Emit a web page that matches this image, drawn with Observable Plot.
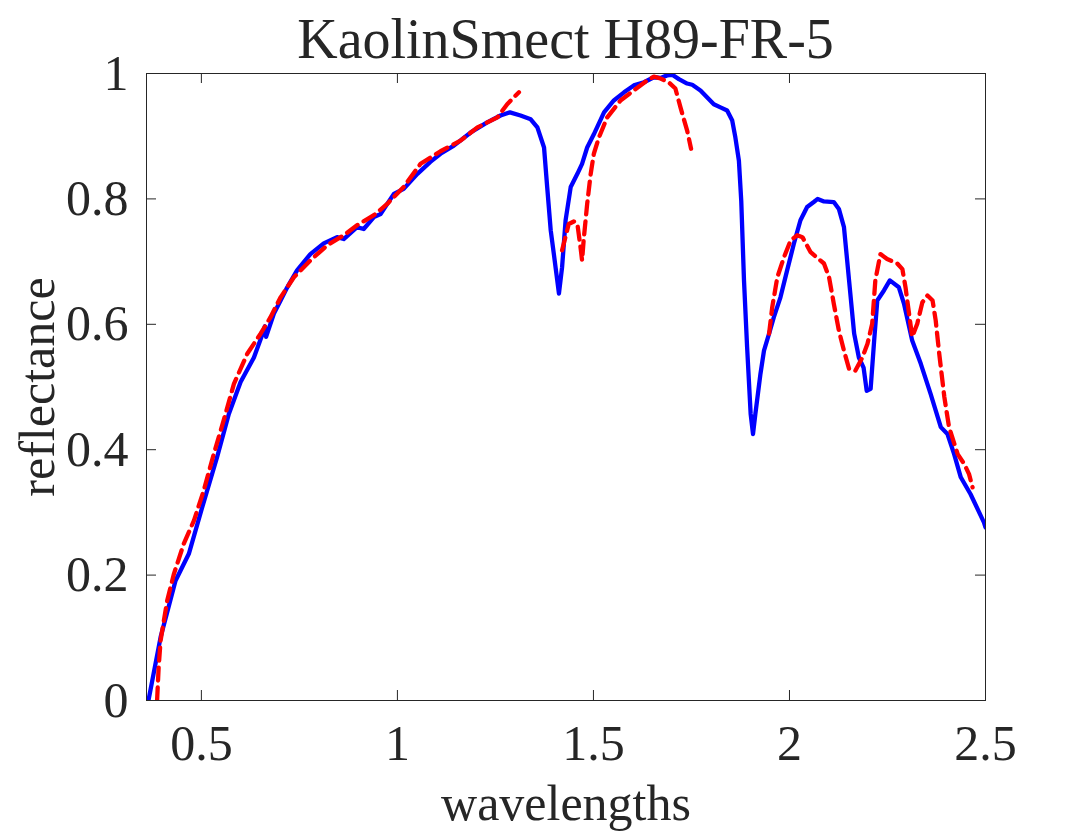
<!DOCTYPE html>
<html>
<head>
<meta charset="utf-8">
<script src="https://cdn.jsdelivr.net/npm/d3@7"></script>
<script src="https://cdn.jsdelivr.net/npm/@observablehq/plot@0.6"></script>
<style>
  body { margin: 0; background: #fff; }
  #title {
    position: relative;
    height: 50px;
    font-family: "Liberation Serif", "Times New Roman", serif;
    color: #262626;
  }
  #title span {
    position: absolute;
    left: 146px;
    width: 839px;
    top: 11px;
    text-align: center;
    font-size: 56px;
    line-height: 1;
    white-space: nowrap;
  }
  svg { overflow: visible; }
</style>
</head>
<body>
<div id="title"><span>KaolinSmect H89-FR-5</span></div>
<div id="chart"></div>
<script>
// Measured spectrum (solid blue)
const measuredWavelength = [
  0.365, 0.396, 0.434, 0.468, 0.502, 0.540, 0.570, 0.600, 0.634, 0.655,
  0.662, 0.665, 0.685, 0.702, 0.719, 0.744, 0.778, 0.812, 0.846, 0.863,
  0.897, 0.914, 0.940, 0.957, 0.991, 1.016, 1.051, 1.084, 1.110, 1.144,
  1.187, 1.229, 1.263, 1.287, 1.314, 1.340, 1.357, 1.374, 1.382, 1.391,
  1.399, 1.412, 1.420, 1.429, 1.442, 1.459, 1.471, 1.484, 1.501, 1.527,
  1.552, 1.578, 1.603, 1.629, 1.654, 1.671, 1.688, 1.701, 1.718, 1.739,
  1.752, 1.773, 1.807, 1.824, 1.841, 1.854, 1.862, 1.871, 1.877, 1.884,
  1.892, 1.901, 1.907, 1.913, 1.926, 1.935, 1.948, 1.960, 1.977, 1.994,
  2.011, 2.028, 2.045, 2.062, 2.072, 2.088, 2.113, 2.126, 2.139, 2.152,
  2.165, 2.177, 2.189, 2.197, 2.207, 2.216, 2.224, 2.241, 2.256, 2.279,
  2.292, 2.313, 2.335, 2.360, 2.386, 2.403, 2.420, 2.437, 2.462, 2.496,
  2.500
];
const measuredReflectance = [
  0.000, 0.101, 0.191, 0.234, 0.308, 0.388, 0.457, 0.508, 0.547, 0.583,
  0.597, 0.580, 0.617, 0.638, 0.659, 0.686, 0.712, 0.729, 0.739, 0.736,
  0.755, 0.752, 0.771, 0.776, 0.808, 0.816, 0.840, 0.859, 0.872, 0.885,
  0.906, 0.922, 0.933, 0.938, 0.933, 0.927, 0.914, 0.882, 0.819, 0.750,
  0.712, 0.649, 0.691, 0.766, 0.819, 0.840, 0.856, 0.882, 0.903, 0.938,
  0.957, 0.970, 0.981, 0.986, 0.994, 0.993, 0.997, 0.998, 0.991, 0.984,
  0.982, 0.973, 0.951, 0.946, 0.941, 0.925, 0.898, 0.861, 0.797, 0.670,
  0.563, 0.457, 0.425, 0.457, 0.521, 0.558, 0.585, 0.611, 0.643, 0.686,
  0.728, 0.766, 0.787, 0.795, 0.800, 0.796, 0.795, 0.784, 0.755, 0.670,
  0.585, 0.547, 0.531, 0.494, 0.497, 0.574, 0.638, 0.654, 0.670, 0.659,
  0.633, 0.574, 0.537, 0.489, 0.436, 0.425, 0.393, 0.356, 0.329, 0.284,
  0.276
];

// Reconstructed spectrum (dashed red); null marks the bands left out
const modelWavelength = [
  0.387, 0.391, 0.396, 0.413, 0.430, 0.455, 0.481, 0.506, 0.532, 0.557,
  0.583, 0.617, 0.651, 0.676, 0.702, 0.736, 0.778, 0.821, 0.863, 0.897,
  0.940, 0.974, 1.016, 1.059, 1.110, 1.161, 1.204, 1.255, 1.280, 1.297,
  1.310, 1.360, 1.420, 1.437, 1.450, 1.459, 1.467, 1.471, 1.475, 1.484,
  1.493, 1.501, 1.514, 1.535, 1.569, 1.603, 1.637, 1.654, 1.671, 1.692,
  1.709, 1.722, 1.739, 1.749, 1.850, 1.948, 1.956, 1.969, 1.986, 2.003,
  2.020, 2.033, 2.054, 2.067, 2.088, 2.101, 2.113, 2.126, 2.139, 2.152,
  2.168, 2.186, 2.199, 2.211, 2.219, 2.232, 2.249, 2.275, 2.288, 2.296,
  2.305, 2.313, 2.326, 2.339, 2.352, 2.365, 2.373, 2.382, 2.395, 2.407,
  2.429, 2.446, 2.458, 2.467
];
const modelReflectance = [
  0.000, 0.053, 0.096, 0.160, 0.202, 0.250, 0.287, 0.335, 0.394, 0.447,
  0.505, 0.553, 0.585, 0.611, 0.643, 0.675, 0.702, 0.726, 0.742, 0.758,
  0.774, 0.792, 0.819, 0.856, 0.876, 0.893, 0.914, 0.930, 0.951, 0.962,
  0.970, null,  0.718, 0.760, 0.764, 0.760, 0.723, 0.702, 0.734, 0.792,
  0.840, 0.872, 0.898, 0.930, 0.957, 0.973, 0.989, 0.995, 0.992, 0.986,
  0.976, 0.946, 0.909, 0.880, null,  0.585, 0.627, 0.675, 0.707, 0.734,
  0.742, 0.739, 0.715, 0.708, 0.697, 0.675, 0.633, 0.590, 0.558, 0.529,
  0.526, 0.547, 0.569, 0.601, 0.670, 0.712, 0.704, 0.697, 0.688, 0.659,
  0.617, 0.580, 0.601, 0.635, 0.646, 0.638, 0.606, 0.553, 0.484, 0.436,
  0.393, 0.377, 0.361, 0.340
];

const xTicks = [0.5, 1, 1.5, 2, 2.5];
const yTicks = [0, 0.2, 0.4, 0.6, 0.8, 1];

const measured = measuredWavelength.map((w, i) => ({w, r: measuredReflectance[i]}));
const model = modelWavelength.map((w, i) => ({w, r: modelReflectance[i]}));

const W = 1088, H = 786;
const margin = {top: 23, right: 103, bottom: 136, left: 146};
const innerW = W - margin.left - margin.right;
const innerH = H - margin.top - margin.bottom;
const tickLen = 10;
const ink = "#262626";

const chart = Plot.plot({
  width: W,
  height: H,
  marginTop: margin.top,
  marginRight: margin.right,
  marginBottom: margin.bottom,
  marginLeft: margin.left,
  style: {
    fontFamily: '"Liberation Serif", "Times New Roman", serif',
    fontSize: "50px",
    color: ink,
    background: "white",
    overflow: "visible"
  },
  x: {domain: [0.36, 2.5]},
  y: {domain: [0, 1]},
  marks: [
    Plot.line(measured, {x: "w", y: "r", stroke: "#0000ff", strokeWidth: 4.3, clip: true}),
    Plot.line(model, {x: "w", y: "r", stroke: "#ff0000", strokeWidth: 4.3, strokeDasharray: "13,7", clip: true}),
    Plot.frame({stroke: ink, strokeWidth: 1}),
    // inward ticks on all four sides of the box
    Plot.gridX(xTicks, {stroke: ink, strokeOpacity: 1, insetTop: innerH - tickLen}),
    Plot.gridX(xTicks, {stroke: ink, strokeOpacity: 1, insetBottom: innerH - tickLen}),
    Plot.gridY(yTicks, {stroke: ink, strokeOpacity: 1, insetRight: innerW - tickLen}),
    Plot.gridY(yTicks, {stroke: ink, strokeOpacity: 1, insetLeft: innerW - tickLen}),
    Plot.axisX(xTicks, {
      tickSize: 0, tickPadding: 24, tickFormat: d => String(d),
      label: "wavelengths", labelAnchor: "center", labelArrow: "none", labelOffset: 119
    }),
    Plot.axisY(yTicks, {
      tickSize: 0, tickPadding: 18, tickFormat: d => String(d),
      label: "reflectance", labelAnchor: "center", labelArrow: "none", labelOffset: 128
    })
  ]
});

document.getElementById("chart").appendChild(chart);
</script>
</body>
</html>
